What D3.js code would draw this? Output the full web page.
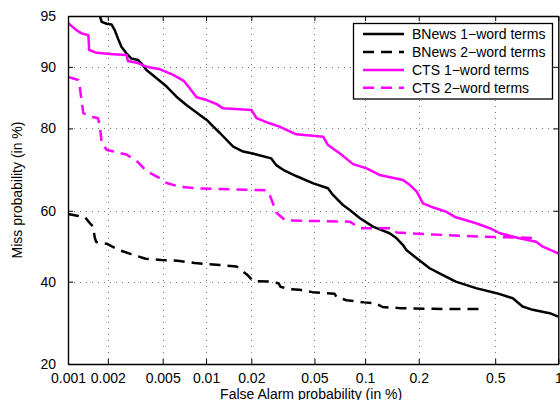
<!DOCTYPE html>
<html><head><meta charset="utf-8">
<script src="https://cdn.jsdelivr.net/npm/d3@7"></script>
<style>body{margin:0;background:#fff}svg{display:block}text{font-family:"Liberation Sans",Arial,sans-serif}</style>
</head><body><svg id="c" width="560" height="400"></svg>
<script>
// ---- data (False Alarm %, Miss %) ----
const xTicks=[0.001,0.002,0.005,0.01,0.02,0.05,0.1,0.2,0.5,1];
const xTickLabels=["0.001","0.002","0.005","0.01","0.02","0.05","0.1","0.2","0.5","1"];
const yTicks=[20,40,60,80,90,95];
const yTickLabels=["20","40","60","80","90","95"];
const seriesNames=["BNews 1\u2212word terms","BNews 2\u2212word terms","CTS 1\u2212word terms","CTS 2\u2212word terms"];
const bnews1=[[0.00172,95.2],[0.0018,94.55],[0.00196,94.4],[0.00213,94.35],[0.00225,93.87],[0.00238,93.1],[0.00252,92.3],[0.00274,91.6],[0.00298,91.0],[0.00333,90.83],[0.00352,90.43],[0.00383,89.6],[0.00453,88.5],[0.00533,87.3],[0.00625,85.73],[0.00733,84.34],[0.00816,83.46],[0.00907,82.57],[0.0101,81.65],[0.0112,80.35],[0.0124,79.07],[0.0152,76.15],[0.0177,75.05],[0.0201,74.67],[0.0269,73.48],[0.0289,71.88],[0.0327,70.52],[0.0386,69.2],[0.0492,67.33],[0.0604,66.05],[0.0647,64.3],[0.0742,61.58],[0.0814,60.2],[0.0934,57.9],[0.111,55.56],[0.138,53.69],[0.151,52.26],[0.164,50.34],[0.171,48.92],[0.195,46.56],[0.229,43.74],[0.268,41.87],[0.315,40],[0.400,38.22],[0.508,36.86],[0.610,35.51],[0.680,33.32],[0.760,32.47],[0.913,31.62],[1.0,30.75]];
const bnews2=[[0.001,59.11],[0.0012,58.55],[0.00135,58.18],[0.00147,56.51],[0.00155,55.56],[0.0016,52.34],[0.00164,51.2],[0.00196,50.71],[0.00241,48.92],[0.00297,47.73],[0.00378,46.42],[0.0049,46.08],[0.00638,45.85],[0.00837,45.23],[0.01,44.94],[0.0124,44.66],[0.016,44.25],[0.0187,42.01],[0.0206,40.11],[0.0262,40.06],[0.0299,39.57],[0.0308,38.57],[0.0351,37.97],[0.0405,37.76],[0.0486,37.14],[0.0662,36.68],[0.0678,35.86],[0.0778,34.97],[0.0985,34.41],[0.114,34.2],[0.126,33.2],[0.157,32.91],[0.238,32.73],[0.426,32.65]];
const cts1=[[0.001,94.47],[0.00116,93.87],[0.00127,93.58],[0.00143,93.42],[0.00145,91.95],[0.00165,91.65],[0.00219,91.5],[0.00275,91.4],[0.00281,90.71],[0.00333,90.47],[0.00383,90.02],[0.00479,89.69],[0.00593,88.95],[0.00703,88.12],[0.00773,87.04],[0.00861,85.63],[0.0101,85.18],[0.0118,84.5],[0.0130,83.77],[0.0201,83.46],[0.0216,81.98],[0.0262,81.01],[0.0303,80.35],[0.0386,78.8],[0.0565,78.31],[0.0604,76.52],[0.0709,74.67],[0.0851,72.12],[0.102,71.1],[0.121,69.46],[0.164,68.18],[0.179,66.9],[0.195,65.18],[0.211,62.04],[0.238,60.95],[0.280,59.75],[0.315,58.18],[0.401,56.51],[0.470,55.11],[0.527,53.69],[0.656,52.26],[0.789,51.29],[0.848,49.86],[1.0,47.98]];
const cts2=[[0.001,88.67],[0.0012,88.26],[0.00123,87.24],[0.00131,82.88],[0.00155,82.21],[0.00169,81.98],[0.00175,80.29],[0.0018,76.89],[0.00197,75.42],[0.00274,74.38],[0.00331,72.67],[0.00383,70.45],[0.00465,68.87],[0.00533,67.41],[0.00659,66.46],[0.00907,66.0],[0.0152,65.79],[0.025,65.54],[0.0266,63.75],[0.0289,59.53],[0.0331,57.29],[0.0814,56.96],[0.0934,55.11],[0.144,55.11],[0.151,53.91],[0.238,53.34],[0.417,52.77],[0.775,52.34]];
const seriesData=[bnews1,bnews2,cts1,cts2];
const seriesColors=["#000000","#000000","#ff00ff","#ff00ff"];
const seriesDash=[null,"11,7",null,"11,7"];

function probit(p){
 const a=[-3.969683028665376e+01,2.209460984245205e+02,-2.759285104469687e+02,1.383577518672690e+02,-3.066479806614716e+01,2.506628277459239e+00];
 const b=[-5.447609879822406e+01,1.615858368580409e+02,-1.556989798598866e+02,6.680131188771972e+01,-1.328068155288572e+01];
 const c=[-7.784894002430293e-03,-3.223964580411365e-01,-2.400758277161838e+00,-2.549671010115490e+00,4.374664141464968e+00,2.938163982698783e+00];
 const d=[7.784695709041462e-03,3.224671290700398e-01,2.445134137142996e+00,3.754408661907416e+00];
 const pl=0.02425,ph=1-pl;let q,r;
 if(p<pl){q=Math.sqrt(-2*Math.log(p));return (((((c[0]*q+c[1])*q+c[2])*q+c[3])*q+c[4])*q+c[5])/((((d[0]*q+d[1])*q+d[2])*q+d[3])*q+1);}
 if(p<=ph){q=p-0.5;r=q*q;return (((((a[0]*r+a[1])*r+a[2])*r+a[3])*r+a[4])*r+a[5])*q/(((((b[0]*r+b[1])*r+b[2])*r+b[3])*r+b[4])*r+1);}
 q=Math.sqrt(-2*Math.log(1-p));return -(((((c[0]*q+c[1])*q+c[2])*q+c[3])*q+c[4])*q+c[5])/((((d[0]*q+d[1])*q+d[2])*q+d[3])*q+1);
}

const L=68,R=558.3,T=16,B=364;
const x=d3.scaleLinear().domain([probit(0.001/100),probit(1/100)]).range([L,R]);
const y=d3.scaleLinear().domain([probit(0.20),probit(0.95)]).range([B,T]);
const px=v=>x(probit(v/100)), py=v=>y(probit(v/100));
const svg=d3.select("#c");

// grid
const g=svg.append("g").attr("stroke","#777").attr("stroke-width",1).attr("stroke-dasharray","1,5");
g.selectAll(".gx").data(xTicks.slice(1,-1)).enter().append("line")
 .attr("x1",d=>Math.round(px(d))+0.5).attr("x2",d=>Math.round(px(d))+0.5).attr("y1",T).attr("y2",B);
g.selectAll(".gy").data(yTicks.slice(1,-1)).enter().append("line")
 .attr("y1",d=>Math.round(py(d))+0.5).attr("y2",d=>Math.round(py(d))+0.5).attr("x1",L).attr("x2",R);

// curves
svg.append("clipPath").attr("id","clip").append("rect").attr("x",L).attr("y",T).attr("width",R-L).attr("height",B-T);
const line=d3.line().x(d=>px(d[0])).y(d=>py(d[1]));
const cg=svg.append("g").attr("clip-path","url(#clip)");
seriesData.forEach((s,i)=>{
 cg.append("path").attr("d",line(s)).attr("fill","none").attr("stroke",seriesColors[i])
  .attr("stroke-width",2.5).attr("stroke-dasharray",seriesDash[i]).attr("stroke-linejoin","round");
});

// axes
const xv=xTicks.map(v=>probit(v/100)), yv=yTicks.map(v=>probit(v/100));
function styleAxis(sel){sel.select(".domain").attr("stroke","#000").attr("stroke-width",1.4);
 sel.selectAll(".tick line").attr("stroke","#000").attr("stroke-width",1);
 sel.selectAll("text").attr("font-size",14).attr("fill","#000").attr("font-family",'"Liberation Sans",Arial,sans-serif');}
svg.append("g").attr("transform",`translate(0,${B})`)
 .call(d3.axisBottom(x).tickValues(xv).tickFormat((d,i)=>xTickLabels[i]).tickSizeInner(-5).tickSizeOuter(0).tickPadding(9)).call(styleAxis);
svg.append("g").attr("transform",`translate(0,${T})`)
 .call(d3.axisTop(x).tickValues(xv).tickFormat("").tickSizeInner(-5).tickSizeOuter(0)).call(styleAxis);
svg.append("g").attr("transform",`translate(${L},0)`)
 .call(d3.axisLeft(y).tickValues(yv).tickFormat((d,i)=>yTickLabels[i]).tickSizeInner(-5).tickSizeOuter(0).tickPadding(12)).call(styleAxis);
svg.append("g").attr("transform",`translate(${R},0)`)
 .call(d3.axisRight(y).tickValues(yv).tickFormat("").tickSizeInner(-5).tickSizeOuter(0)).call(styleAxis);
svg.selectAll(".domain").attr("fill","none");

// axis titles
svg.append("text").attr("x",(L+R)/2-2).attr("y",399).attr("text-anchor","middle").attr("font-size",14).text("False Alarm probability (in %)");
svg.append("text").attr("transform",`translate(22,${(T+B)/2}) rotate(-90)`).attr("text-anchor","middle").attr("font-size",14).text("Miss probability (in %)");

// legend
const lg=svg.append("g");
lg.append("rect").attr("x",353.5).attr("y",23.5).attr("width",199).attr("height",75.5).attr("fill","#fff").attr("stroke","#000").attr("stroke-width",1.3);
const rowY=[34,52,70,87.7];
seriesNames.forEach((n,i)=>{
 lg.append("line").attr("x1",363).attr("x2",404).attr("y1",rowY[i]).attr("y2",rowY[i]).attr("stroke",seriesColors[i]).attr("stroke-width",2.5).attr("stroke-dasharray",seriesDash[i]);
 lg.append("text").attr("x",412).attr("y",rowY[i]+5).attr("font-size",14).text(n);
});
</script></body></html>
